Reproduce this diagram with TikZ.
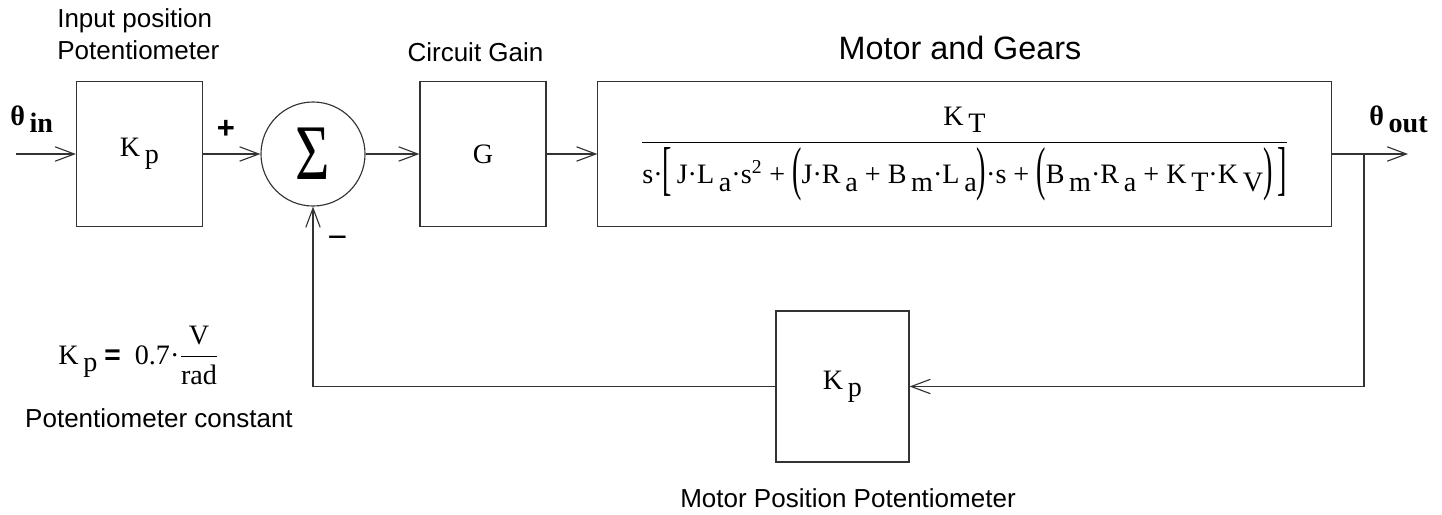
\documentclass[tikz,border=0pt]{standalone}
\usepackage{fontspec}
\setmainfont{Liberation Serif}
\newfontfamily\arialfont{Liberation Sans}
\usetikzlibrary{arrows.meta,positioning}
\newcommand{\lo}[1]{\,\raisebox{-0.55ex}{#1}}
\newcommand{\stretchy}[2]{\raisebox{-0.17em}{\scalebox{1}[#1]{#2}}}

\begin{document}
\begin{tikzpicture}[
		x=0.025cm, y=-0.025cm,
		>={Straight Barb[length=0.48cm, width=0.36cm]},
		block/.style={draw=black!80, line width=0.8pt, minimum width=3.15cm, minimum height=3.625cm, font=\fontsize{20}{23}\selectfont},
		caption/.style={font=\arialfont\fontsize{18.5}{22.8}\selectfont, inner sep=0pt},
		formula/.style={font=\fontsize{20}{23}\selectfont, inner sep=0pt},
		signal/.style={draw=black!80, line width=0.8pt, ->}
	]
	\useasboundingbox (0,0) rectangle (1442,514);
	\node[block] (kpin) at (139.5,154) {K\lo{p}};
	\node[draw=black!80, line width=0.8pt, circle, minimum size=2.6cm, inner sep=0pt] (sum) at (313,154) {\fontsize{56}{56}\selectfont\scalebox{0.75}[1]{Σ}};
	\node[block] (gain) at (483,154) {G};
	\node[block, minimum width=18.325cm] (motor) at (964.5,154) {$\displaystyle\frac{\hbox{\rule[-0.55em]{0pt}{1.1em}K\lo{T}}}{\hbox{\rule{0pt}{1.4em}s·\stretchy{2.1}{[}\,J·L\lo{a}·s\textsuperscript{2} + \stretchy{2.1}{(}J·R\lo{a} + B\lo{m}·L\lo{a}\stretchy{2.1}{)}·s + \stretchy{2.1}{(}B\lo{m}·R\lo{a} + K\lo{T}·K\lo{V}\stretchy{2.1}{)}\,\stretchy{2.1}{]}}}$};
	\node[block, minimum width=3.325cm, minimum height=3.775cm] (kpfb) at (842.5,386.5) {K\lo{p}};
	\coordinate (in) at (16,154);
	\coordinate (out) at (1408,154);
	\coordinate (tap) at (1364,154);
	\draw[signal] (in) -- (kpin);
	\draw[signal] (kpin) -- (sum);
	\draw[signal] (sum) -- (gain);
	\draw[signal] (gain) -- (motor);
	\draw[signal] (motor) -- (out);
	\draw[signal] (tap) |- (kpfb);
	\draw[signal] (kpfb) -| (sum);
	\node[formula, anchor=base west, font=\bfseries\fontsize{20}{23}\selectfont] (thetain) at (10,125) {θ\lo{in}};
	\node[formula, anchor=base west, font=\bfseries\fontsize{20}{23}\selectfont] (thetaout) at (1369,125) {θ\lo{out}};
	\node[font=\arialfont\bfseries\fontsize{22}{22}\selectfont] (plus) at (226,129.5) {+};
	\node[font=\arialfont\fontsize{24}{24}\selectfont] (minus) at (337.5,242) {−};
	\node[caption, align=left, anchor=south west] (inlbl) at (57,60) {Input position\\Potentiometer};
	\node[caption, anchor=base] (gainlbl) at (475.5,61) {Circuit Gain};
	\node[caption, anchor=base, font=\arialfont\fontsize{23}{26}\selectfont] (motorlbl) at (960,59) {Motor and Gears};
	\node[caption, anchor=base] (fblbl) at (848,507) {Motor Position Potentiometer};
	\node[formula, anchor=base west] (kpeq) at (58,364) {K\lo{p}\ {\arialfont\bfseries =}\ \ 0.7·$\displaystyle\frac{\hbox{V}}{\hbox{rad}}$};
	\node[caption, anchor=base] (kplbl) at (159,427) {Potentiometer constant};
\end{tikzpicture}
\end{document}
